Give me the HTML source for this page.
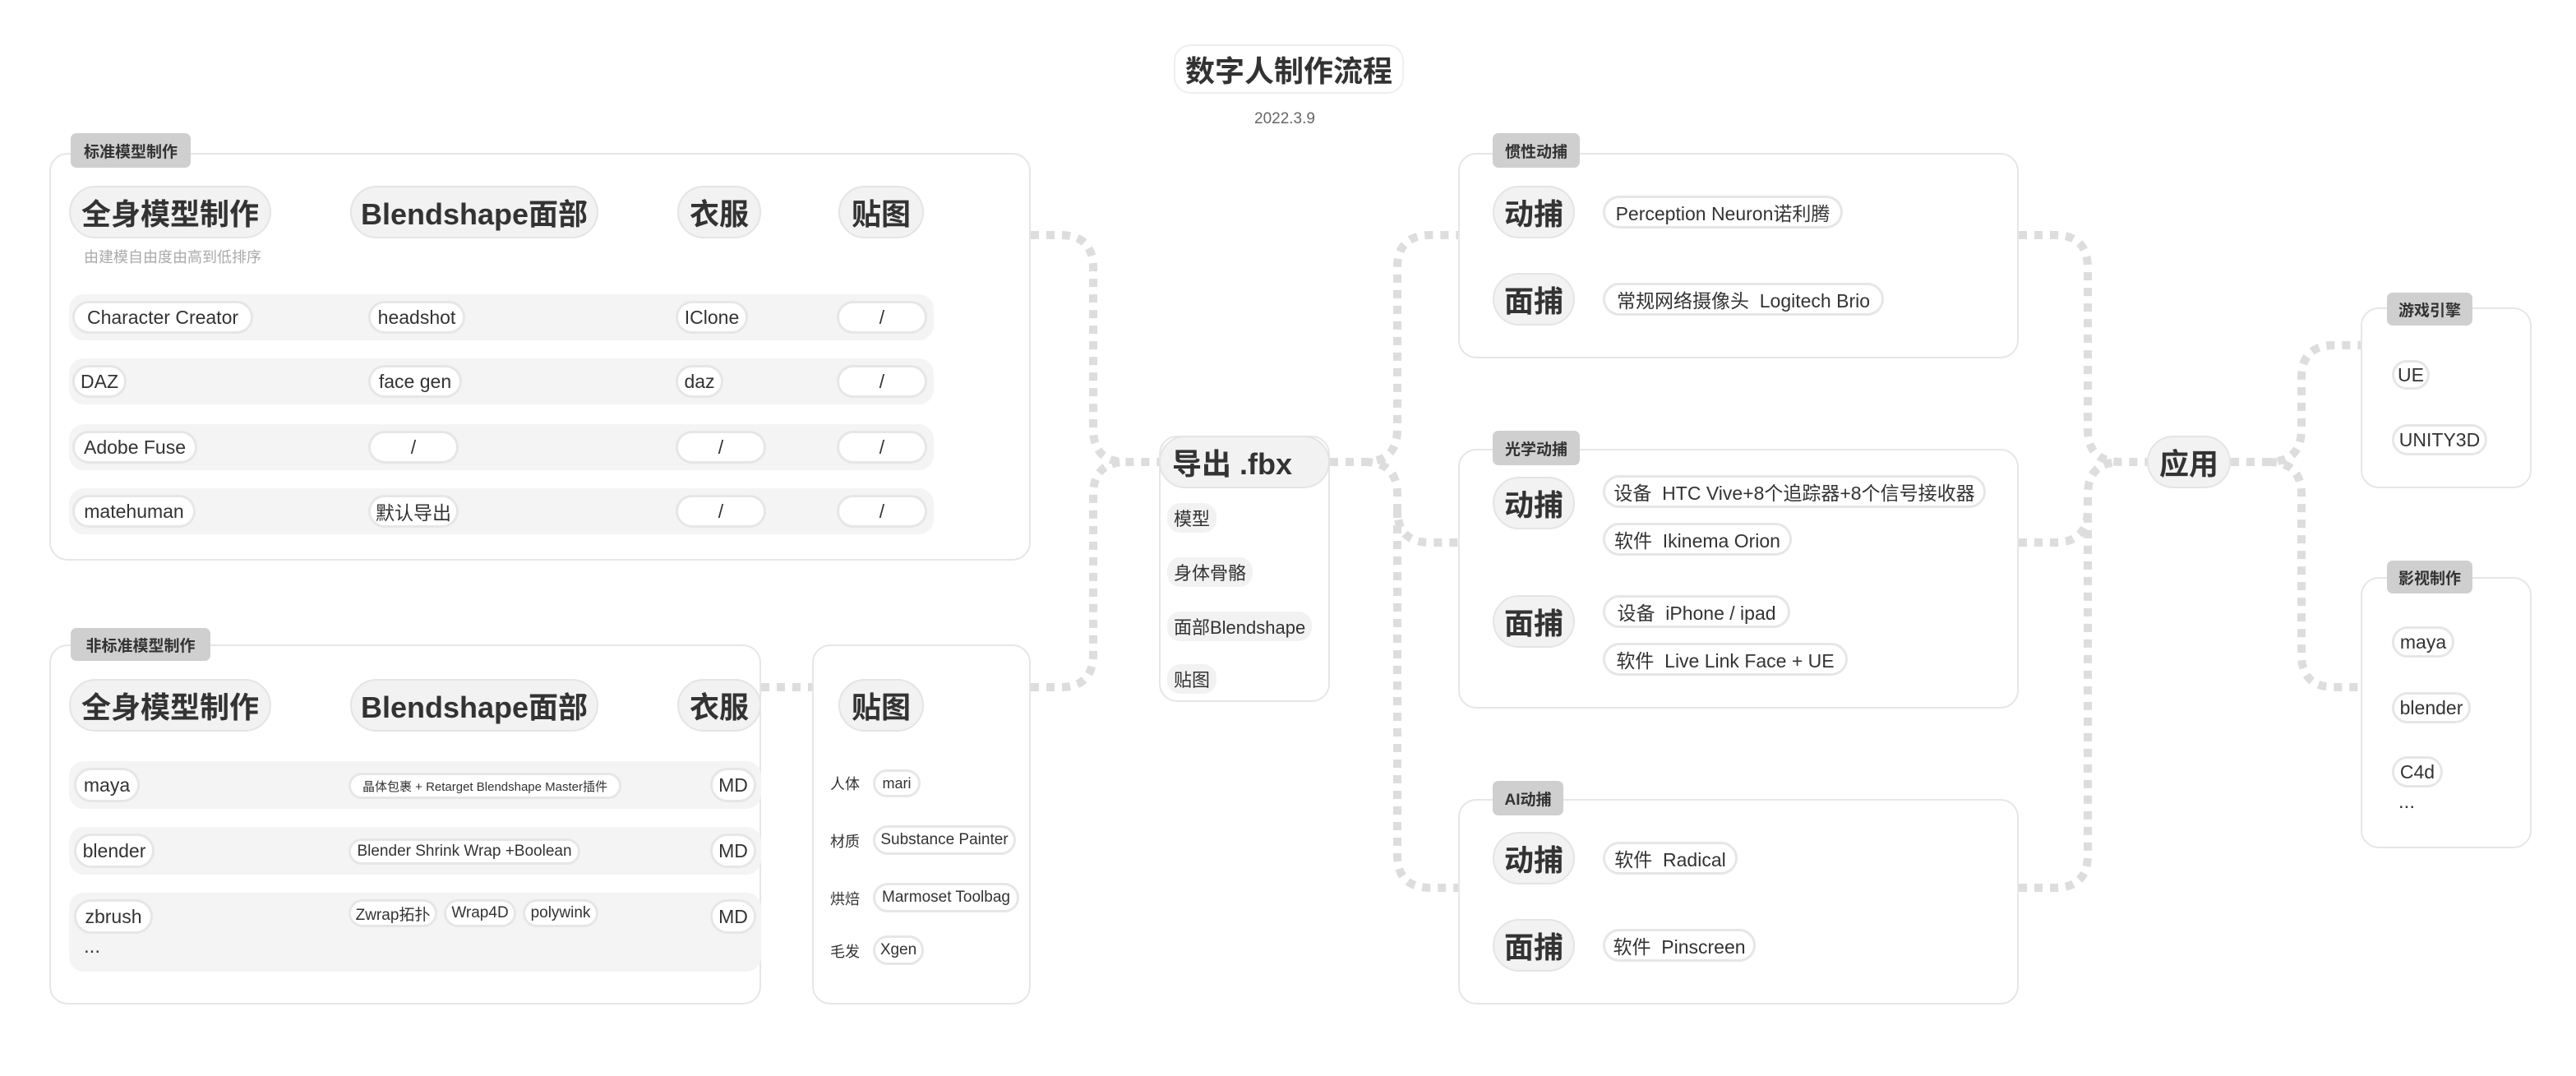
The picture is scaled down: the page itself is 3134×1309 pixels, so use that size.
<!DOCTYPE html>
<html><head><meta charset="utf-8">
<style>
*{box-sizing:border-box;margin:0;padding:0}
body{width:3134px;height:1309px;background:#fff;position:relative;overflow:hidden;font-family:"Liberation Sans","Noto Sans CJK SC",sans-serif;color:#333}
.a{position:absolute}
.box{position:absolute;border:2px solid #e6e6e6;border-radius:22px;background:#fff}
.lab{position:absolute;background:#cfcfcf;border-radius:7px;font-size:19px;display:flex;align-items:center;justify-content:center;color:#333;font-weight:bold}
.h{position:absolute;background:#f2f2f2;border:2px solid #e4e4e4;border-radius:32px;font-size:36px;display:flex;align-items:center;justify-content:center;color:#333;font-weight:bold}
.p{position:absolute;background:#fff;border:3px solid #e6e6e6;border-radius:22px;font-size:23px;display:flex;align-items:center;justify-content:center;white-space:nowrap;color:#333}
.band{position:absolute;background:#f4f4f4;border-radius:18px}
.g{position:absolute;background:#f2f2f2;border-radius:16px;font-size:22px;display:flex;align-items:center;padding:0 8px;white-space:nowrap}
.t{position:absolute;font-size:19px;white-space:nowrap}
</style></head><body>
<svg class="a" style="left:0;top:0" width="3134" height="1309">
<g fill="none" stroke="#dddddd" stroke-width="10" stroke-dasharray="10 9">
<path d="M1254,286 H1290 Q1330,286 1330,326 V522 Q1330,562 1370,562 H1410"/>
<path d="M1254,836 H1290 Q1330,836 1330,796 V602 Q1330,562 1370,562"/>
<path d="M926,836 H988"/>
<path d="M1618,562 H1660 Q1700,562 1700,522 V326 Q1700,286 1740,286 H1774"/>
<path d="M1660,562 Q1700,562 1700,602 V620 Q1700,660 1740,660 H1774"/>
<path d="M1700,620 V1040 Q1700,1080 1740,1080 H1774"/>
<path d="M2456,286 H2500 Q2540,286 2540,326 V522 Q2540,562 2580,562 H2612"/>
<path d="M2456,660 H2500 Q2540,660 2540,620 V602 Q2540,562 2580,562"/>
<path d="M2456,1080 H2500 Q2540,1080 2540,1040 V620"/>
<path d="M2714,562 H2760 Q2800,562 2800,522 V460 Q2800,420 2840,420 H2872"/>
<path d="M2760,562 Q2800,562 2800,602 V796 Q2800,836 2840,836 H2872"/>
</g></svg>

<div class="a" style="left:1428px;top:54px;width:280px;height:60px;border:2px solid #eee;border-radius:20px;font-size:36px;display:flex;align-items:center;justify-content:center;background:#fff;font-weight:bold">数字人制作流程</div>
<div class="t" style="left:1526px;top:134px;font-size:19px;color:#666">2022.3.9</div>

<div class="box" style="left:60px;top:186px;width:1194px;height:496px"></div>
<div class="lab" style="left:86px;top:162px;width:146px;height:42px">标准模型制作</div>
<div class="h" style="left:84px;top:226px;width:246px;height:64px">全身模型制作</div>
<div class="h" style="left:426px;top:226px;width:302px;height:64px">Blendshape面部</div>
<div class="h" style="left:824px;top:226px;width:102px;height:64px">衣服</div>
<div class="h" style="left:1020px;top:226px;width:104px;height:64px">贴图</div>
<div class="t" style="left:102px;top:299px;font-size:18px;color:#aaa">由建模自由度由高到低排序</div>

<div class="band" style="left:84px;top:358px;width:1052px;height:56px"></div>
<div class="band" style="left:84px;top:436px;width:1052px;height:56px"></div>
<div class="band" style="left:84px;top:516px;width:1052px;height:56px"></div>
<div class="band" style="left:84px;top:594px;width:1052px;height:56px"></div>

<div class="p" style="left:88px;top:366px;width:220px;height:40px">Character Creator</div>
<div class="p" style="left:448px;top:366px;width:118px;height:40px">headshot</div>
<div class="p" style="left:822px;top:366px;width:88px;height:40px">IClone</div>
<div class="p" style="left:1018px;top:366px;width:110px;height:40px">/</div>

<div class="p" style="left:88px;top:444px;width:66px;height:40px">DAZ</div>
<div class="p" style="left:448px;top:444px;width:114px;height:40px">face gen</div>
<div class="p" style="left:822px;top:444px;width:58px;height:40px">daz</div>
<div class="p" style="left:1018px;top:444px;width:110px;height:40px">/</div>

<div class="p" style="left:88px;top:524px;width:152px;height:40px">Adobe Fuse</div>
<div class="p" style="left:448px;top:524px;width:110px;height:40px">/</div>
<div class="p" style="left:822px;top:524px;width:110px;height:40px">/</div>
<div class="p" style="left:1018px;top:524px;width:110px;height:40px">/</div>

<div class="p" style="left:88px;top:602px;width:150px;height:40px">matehuman</div>
<div class="p" style="left:448px;top:602px;width:110px;height:40px">默认导出</div>
<div class="p" style="left:822px;top:602px;width:110px;height:40px">/</div>
<div class="p" style="left:1018px;top:602px;width:110px;height:40px">/</div>

<div class="box" style="left:60px;top:784px;width:866px;height:438px"></div>
<div class="lab" style="left:86px;top:764px;width:170px;height:40px">非标准模型制作</div>
<div class="h" style="left:84px;top:826px;width:246px;height:64px">全身模型制作</div>
<div class="h" style="left:426px;top:826px;width:302px;height:64px">Blendshape面部</div>
<div class="h" style="left:824px;top:826px;width:102px;height:64px">衣服</div>

<div class="band" style="left:84px;top:926px;width:842px;height:58px"></div>
<div class="band" style="left:84px;top:1006px;width:842px;height:58px"></div>
<div class="band" style="left:84px;top:1086px;width:842px;height:96px"></div>

<div class="p" style="left:90px;top:934px;width:80px;height:42px">maya</div>
<div class="p" style="left:424px;top:940px;width:332px;height:32px;font-size:15px">晶体包裹 + Retarget Blendshape Master插件</div>
<div class="p" style="left:864px;top:934px;width:56px;height:42px">MD</div>

<div class="p" style="left:90px;top:1014px;width:98px;height:42px">blender</div>
<div class="p" style="left:424px;top:1020px;width:282px;height:32px;font-size:19px">Blender Shrink Wrap +Boolean</div>
<div class="p" style="left:864px;top:1014px;width:56px;height:42px">MD</div>

<div class="p" style="left:90px;top:1094px;width:96px;height:42px">zbrush</div>
<div class="p" style="left:424px;top:1094px;width:108px;height:34px;font-size:19px">Zwrap拓扑</div>
<div class="p" style="left:540px;top:1094px;width:88px;height:34px;font-size:19px">Wrap4D</div>
<div class="p" style="left:636px;top:1094px;width:92px;height:34px;font-size:19px">polywink</div>
<div class="p" style="left:864px;top:1094px;width:56px;height:42px">MD</div>
<div class="t" style="left:102px;top:1138px;font-size:24px">...</div>

<div class="box" style="left:988px;top:784px;width:266px;height:438px"></div>
<div class="h" style="left:1020px;top:826px;width:104px;height:64px">贴图</div>
<div class="t" style="left:1010px;top:940px;font-size:18px">人体</div>
<div class="p" style="left:1062px;top:936px;width:58px;height:34px;font-size:18px">mari</div>
<div class="t" style="left:1010px;top:1010px;font-size:18px">材质</div>
<div class="p" style="left:1062px;top:1004px;width:174px;height:36px;font-size:19px">Substance Painter</div>
<div class="t" style="left:1010px;top:1080px;font-size:18px">烘焙</div>
<div class="p" style="left:1062px;top:1074px;width:178px;height:36px;font-size:19px">Marmoset Toolbag</div>
<div class="t" style="left:1010px;top:1144px;font-size:18px">毛发</div>
<div class="p" style="left:1062px;top:1138px;width:62px;height:36px;font-size:19px">Xgen</div>

<div class="box" style="left:1410px;top:530px;width:208px;height:324px"></div>
<div class="h" style="left:1410px;top:530px;width:208px;height:64px;justify-content:flex-start;padding-left:14px">导出 .fbx</div>
<div class="g" style="left:1420px;top:612px;height:36px">模型</div>
<div class="g" style="left:1420px;top:678px;height:36px">身体骨骼</div>
<div class="g" style="left:1420px;top:744px;height:36px">面部Blendshape</div>
<div class="g" style="left:1420px;top:808px;height:36px">贴图</div>

<div class="box" style="left:1774px;top:186px;width:682px;height:250px"></div>
<div class="lab" style="left:1816px;top:162px;width:106px;height:42px">惯性动捕</div>
<div class="h" style="left:1816px;top:226px;width:100px;height:64px">动捕</div>
<div class="p" style="left:1950px;top:238px;width:292px;height:40px">Perception Neuron诺利腾</div>
<div class="h" style="left:1816px;top:332px;width:100px;height:64px">面捕</div>
<div class="p" style="left:1950px;top:344px;width:342px;height:40px">常规网络摄像头&nbsp; Logitech Brio</div>

<div class="box" style="left:1774px;top:546px;width:682px;height:316px"></div>
<div class="lab" style="left:1816px;top:524px;width:106px;height:42px">光学动捕</div>
<div class="h" style="left:1816px;top:580px;width:100px;height:64px">动捕</div>
<div class="p" style="left:1950px;top:578px;width:466px;height:40px">设备&nbsp; HTC Vive+8个追踪器+8个信号接收器</div>
<div class="p" style="left:1950px;top:636px;width:230px;height:40px">软件&nbsp; Ikinema Orion</div>
<div class="h" style="left:1816px;top:724px;width:100px;height:64px">面捕</div>
<div class="p" style="left:1950px;top:724px;width:228px;height:40px">设备&nbsp; iPhone / ipad</div>
<div class="p" style="left:1950px;top:782px;width:298px;height:40px">软件&nbsp; Live Link Face + UE</div>

<div class="box" style="left:1774px;top:972px;width:682px;height:250px"></div>
<div class="lab" style="left:1816px;top:950px;width:86px;height:42px">AI动捕</div>
<div class="h" style="left:1816px;top:1012px;width:100px;height:64px">动捕</div>
<div class="p" style="left:1950px;top:1024px;width:164px;height:40px">软件&nbsp; Radical</div>
<div class="h" style="left:1816px;top:1118px;width:100px;height:64px">面捕</div>
<div class="p" style="left:1950px;top:1130px;width:186px;height:40px">软件&nbsp; Pinscreen</div>

<div class="h" style="left:2612px;top:530px;width:102px;height:64px">应用</div>

<div class="box" style="left:2872px;top:374px;width:208px;height:220px"></div>
<div class="lab" style="left:2904px;top:356px;width:104px;height:40px">游戏引擎</div>
<div class="p" style="left:2910px;top:438px;width:46px;height:36px">UE</div>
<div class="p" style="left:2910px;top:516px;width:116px;height:38px">UNITY3D</div>

<div class="box" style="left:2872px;top:702px;width:208px;height:330px"></div>
<div class="lab" style="left:2904px;top:682px;width:104px;height:40px">影视制作</div>
<div class="p" style="left:2910px;top:762px;width:76px;height:38px">maya</div>
<div class="p" style="left:2910px;top:842px;width:96px;height:38px">blender</div>
<div class="p" style="left:2910px;top:920px;width:62px;height:38px">C4d</div>
<div class="t" style="left:2918px;top:962px;font-size:24px">...</div>
</body></html>
